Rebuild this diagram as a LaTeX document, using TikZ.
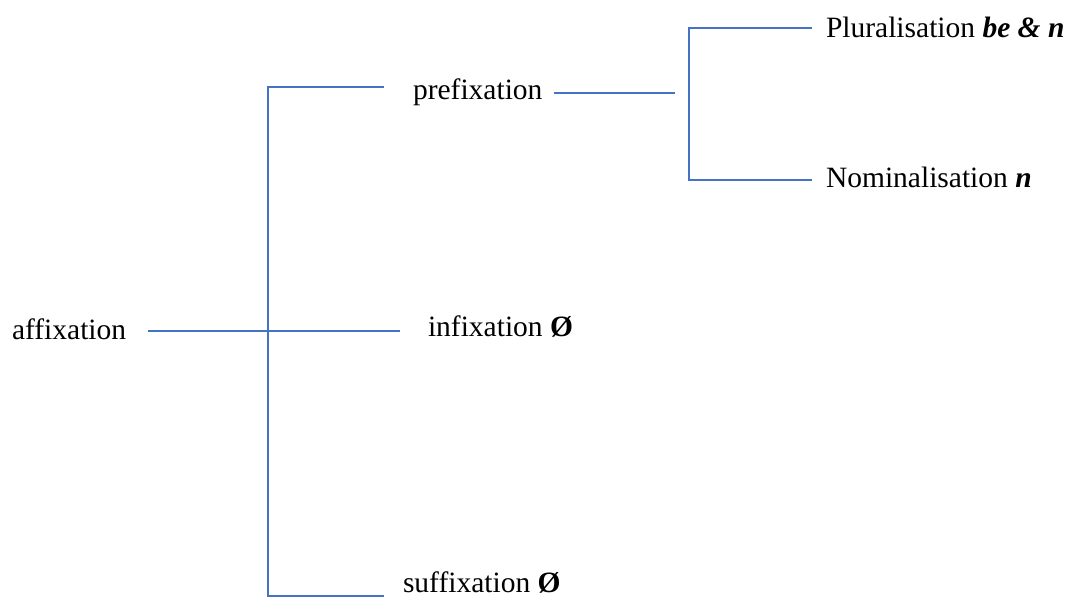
\documentclass[tikz,border=0pt]{standalone}
\usepackage{fontspec}
\setmainfont{Liberation Serif}
\definecolor{branchblue}{HTML}{4472C4}

\begin{document}
\begin{tikzpicture}[x=0.5pt, y=-0.5pt,
        word/.style={inner sep=0, outer sep=0, anchor=west, text height=0.68em, text depth=0pt,
            font=\fontsize{14.75}{17}\selectfont},
        branch/.style={draw=branchblue, line width=0.75pt}]
        \useasboundingbox (0,0) rectangle (1070,601);
        \begin{scope}
            \node [word] (aff) at (12,333) {affixation};
            \node [word] (pre) at (413,93) {prefixation};
            \node [word] (inf) at (428,330) {infixation \textbf{Ø}};
            \node [word] (suf) at (403,586) {suffixation \textbf{Ø}};
            \node [word] (plu) at (826,31) {Pluralisation \textbf{\textit{be \& n}}};
            \node [word] (nom) at (826,181) {Nominalisation \textbf{\textit{n}}};
            \coordinate (j1top) at (268,87);
            \coordinate (j1bot) at (268,596);
            \coordinate (j1mid) at (268,331);
            \coordinate (j2in) at (675,93);
            \coordinate (j2top) at (689,28);
            \coordinate (j2bot) at (689,180);
            \draw [branch, shorten <=11pt] (j1mid -| aff.east) -- (j1mid) -- (j1mid -| inf.west) [shorten >=14pt];
            \draw [branch, shorten <=14.5pt, shorten >=9.5pt] (j1top -| pre.west) -- (j1top) -- (j1bot) -- (j1bot -| suf.west);
            \draw [branch, shorten <=6pt] (j2in -| pre.east) -- (j2in);
            \draw [branch, shorten <=7pt, shorten >=7pt] (j2top -| plu.west) -- (j2top) -- (j2bot) -- (j2bot -| nom.west);
        \end{scope}
\end{tikzpicture}
\end{document}
